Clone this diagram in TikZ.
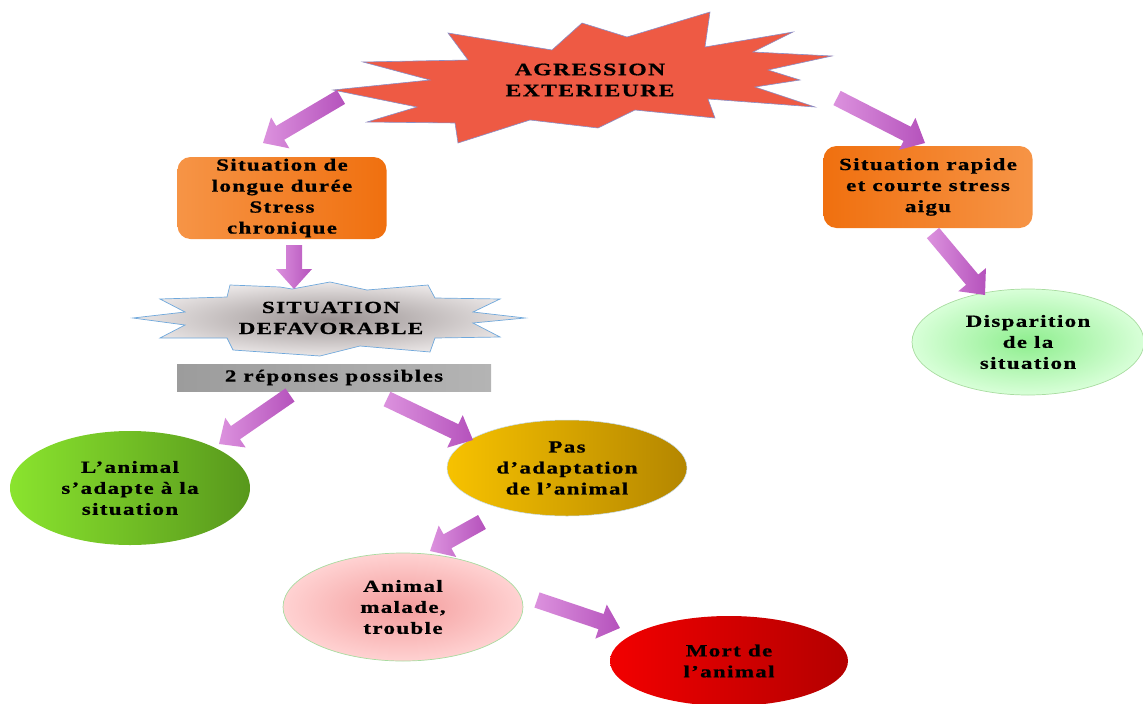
\documentclass[tikz,border=0pt]{standalone}
\usepackage{fontspec}
\setmainfont{Liberation Serif}[FakeStretch=1.35,LetterSpace=8,FakeBold=0.8]
\usetikzlibrary{calc,shapes.geometric}
\definecolor{starred}{HTML}{EE5A44}
\definecolor{starline}{HTML}{8A8FC8}
\definecolor{orangeL}{HTML}{F69446}
\definecolor{orangeD}{HTML}{F0700F}
\definecolor{violetL}{HTML}{DC92DE}
\definecolor{violetD}{HTML}{B552BC}
\definecolor{grayIn}{HTML}{9A9292}
\definecolor{grayOut}{HTML}{EAE6E6}
\definecolor{blueline}{HTML}{6FA8DC}
\definecolor{greenL}{HTML}{8AE42E}
\definecolor{greenD}{HTML}{58981C}
\definecolor{goldL}{HTML}{F7C200}
\definecolor{goldD}{HTML}{B48600}
\definecolor{pinkIn}{HTML}{F39C9C}
\definecolor{pinkOut}{HTML}{FFD2D2}
\definecolor{redL}{HTML}{F20000}
\definecolor{redD}{HTML}{B40000}
\definecolor{mintIn}{HTML}{8EEE8E}
\definecolor{mintOut}{HTML}{D8FFD8}
\definecolor{mintLine}{HTML}{A8DCA0}
\definecolor{barL}{HTML}{9C9C9C}
\definecolor{barR}{HTML}{B4B4B4}
\newcommand\blockarrow[2]{%
  \coordinate (#1h) at ($(#2)!20pt!(#1)$);
  \path[arrowbody] ($(#1)!8pt!90:(#2)$) -- ($(#1h)!8pt!90:(#2)$) -- ($(#1h)!18pt!90:(#2)$) -- (#2)
    -- ($(#1h)!18pt!-90:(#2)$) -- ($(#1h)!8pt!-90:(#2)$) -- ($(#1)!8pt!-90:(#2)$) -- cycle;}
\begin{document}
\begin{tikzpicture}[x=1pt,y=-1pt,
  txt/.style={font=\bfseries\fontsize{17}{21}\selectfont, align=center, text=black},
  bigtxt/.style={font=\bfseries\fontsize{17.5}{21}\selectfont, align=center, text=black},
  obox/.style={rectangle, rounded corners=13pt, minimum width=209pt, minimum height=82pt, inner sep=0pt},
  oval/.style={ellipse, inner sep=0pt},
  arrowbody/.style={left color=violetL, right color=violetD}]
\useasboundingbox (0,0) rectangle (1143,704);

% Agression star
\path[fill=starred, draw=starline, line width=0.6pt]
 (333,90) -- (430,80) -- (363,62) -- (468,60) -- (448,33) -- (552,50) -- (582,23) -- (627,37)
 -- (710,12) -- (705,47) -- (793,32) -- (753,52) -- (832,56) -- (768,70) -- (800,80) -- (755,87)
 -- (815,107) -- (708,99) -- (715,118) -- (635,110) -- (598,128) -- (530,120) -- (458,143)
 -- (455,123) -- (367,122) -- (417,107) -- cycle;
\node[bigtxt] (agr) at (590,80) {AGRESSION\\EXTERIEURE};

% orange boxes
\node[obox, left color=orangeL, right color=orangeD, txt] (longue) at (282,198)
  {Situation de\\longue durée\\Stress\\chronique};
\node[obox, left color=orangeD, right color=orangeL, txt] (rapide) at (928,187)
  {Situation rapide\\et courte stress\\aigu};

% situation defavorable star
\path[inner color=grayIn, outer color=grayOut, draw=blueline, line width=0.7pt]
 (133,318) -- (185,312) -- (160,299) -- (227,297) -- (230,285) -- (280,287) -- (292,289)
 -- (330,282) -- (367,290) -- (428,285) -- (435,298) -- (500,299) -- (473,312) -- (525,318)
 -- (473,323) -- (500,337) -- (435,338) -- (430,352) -- (360,346) -- (320,356) -- (233,350)
 -- (227,338) -- (160,338) -- (185,325) -- cycle;
\node[txt] (defav) at (331,318) {SITUATION\\DEFAVORABLE};

% gray bar
\node[rectangle, minimum width=314pt, minimum height=27pt, inner sep=0pt,
  left color=barL, right color=barR, txt] (rep) at (334,377.5) {2 réponses possibles};

% ellipses
\node[oval, minimum width=240pt, minimum height=114pt, left color=greenL, right color=greenD, txt]
  (adapte) at (130,488) {L’animal\\s’adapte à la\\situation};
\node[oval, minimum width=240pt, minimum height=96pt, left color=goldL, right color=goldD,
  draw=blueline!40, line width=0.5pt, txt]
  (pas) at (567,468) {Pas\\d’adaptation\\de l’animal};
\node[oval, minimum width=240pt, minimum height=108pt, inner color=pinkIn, outer color=pinkOut,
  draw=mintLine, line width=0.7pt, txt]
  (malade) at (403,607) {Animal\\malade,\\trouble};
\node[oval, minimum width=238pt, minimum height=90pt, left color=redL, right color=redD, txt]
  (mort) at (729,661) {Mort de\\l’animal};
\node[oval, minimum width=232pt, minimum height=106pt, inner color=mintIn, outer color=mintOut,
  draw=mintLine, line width=0.7pt, txt]
  (disp) at (1028,342) {Disparition\\de la\\situation};

% arrows
\coordinate (a1) at (341,97);  \coordinate (b1) at (263,143);
\coordinate (a2) at (837,98);  \coordinate (b2) at (925,143);
\coordinate (a3) at (294,245); \coordinate (b3) at (294,289);
\coordinate (a4) at (933,233); \coordinate (b4) at (985,295);
\coordinate (a5) at (290,395); \coordinate (b5) at (219,444);
\coordinate (a6) at (387,399); \coordinate (b6) at (473,440);
\coordinate (a7) at (482,522); \coordinate (b7) at (430,551);
\coordinate (a8) at (537,600); \coordinate (b8) at (620,628);
\blockarrow{a1}{b1}
\blockarrow{a2}{b2}
\blockarrow{a3}{b3}
\blockarrow{a4}{b4}
\blockarrow{a5}{b5}
\blockarrow{a6}{b6}
\blockarrow{a7}{b7}
\blockarrow{a8}{b8}
\end{tikzpicture}
\end{document}
